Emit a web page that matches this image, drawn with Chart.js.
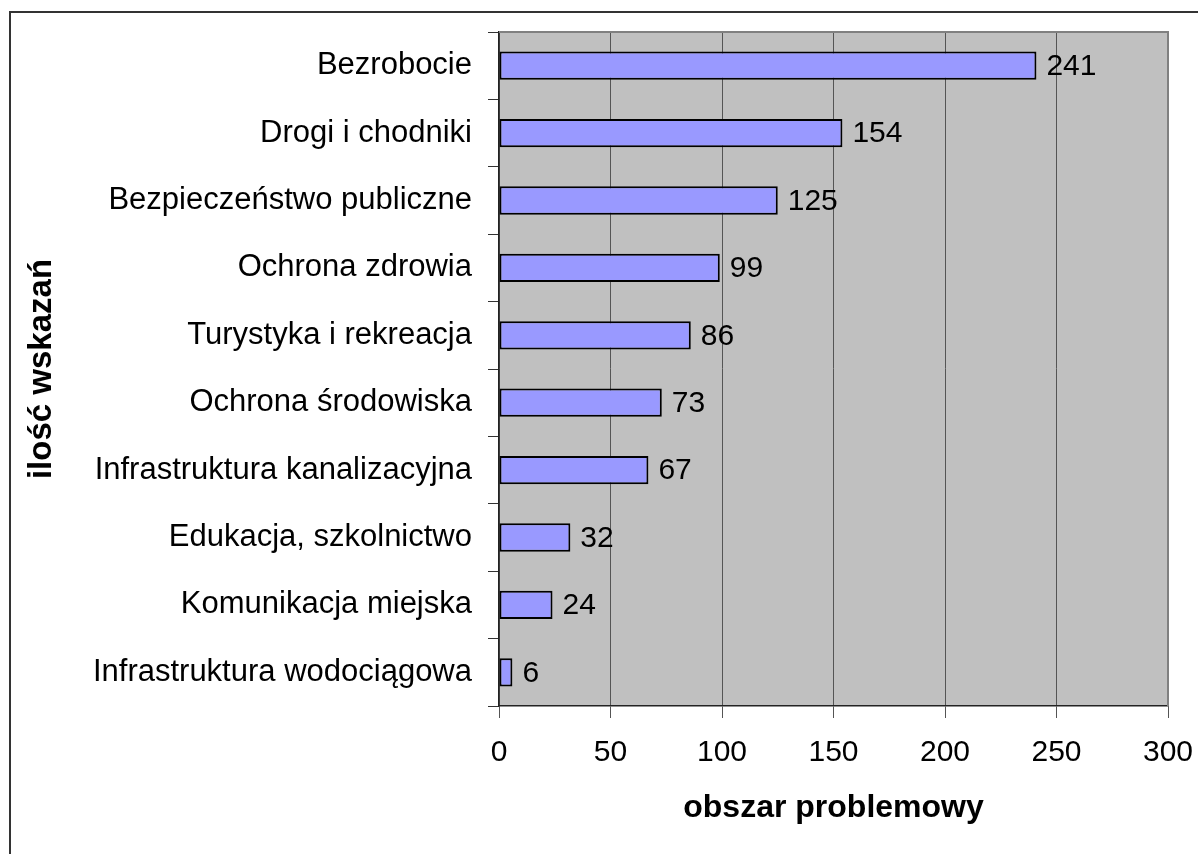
<!DOCTYPE html>
<html>
<head>
<meta charset="utf-8">
<script src="https://cdn.jsdelivr.net/npm/chart.js@4/dist/chart.umd.min.js"></script>
<style>
  html, body { margin: 0; padding: 0; background: #fff; }
  #wrap { position: relative; width: 1198px; height: 854px; overflow: hidden; }
  #frame { position: absolute; left: 9px; top: 11px; width: 1400px; height: 1000px; border: 2px solid #333; pointer-events: none; }
  canvas { position: absolute; left: 0; top: 0; }
</style>
</head>
<body>
<div id="wrap">
  <div id="frame"></div>
  <canvas id="c" width="1198" height="854"></canvas>
</div>
<script>
const categories = [
  'Bezrobocie',
  'Drogi i chodniki',
  'Bezpieczeństwo publiczne',
  'Ochrona zdrowia',
  'Turystyka i rekreacja',
  'Ochrona środowiska',
  'Infrastruktura kanalizacyjna',
  'Edukacja, szkolnictwo',
  'Komunikacja miejska',
  'Infrastruktura wodociągowa'
];
const values = [241, 154, 125, 99, 86, 73, 67, 32, 24, 6];
const xTicks = [0, 50, 100, 150, 200, 250, 300];
const xTitle = 'obszar problemowy';
const yTitle = 'ilość wskazań';

const FONT = "'Liberation Sans', Arial, sans-serif";

const plotBg = {
  id: 'plotBg',
  beforeDraw(chart) {
    const a = chart.chartArea, ctx = chart.ctx;
    ctx.save();
    ctx.fillStyle = '#C0C0C0';
    ctx.fillRect(a.left, a.top, a.right - a.left, a.bottom - a.top);
    ctx.restore();
  },
  beforeDatasetsDraw(chart) {
    const a = chart.chartArea, ctx = chart.ctx;
    ctx.save();
    ctx.strokeStyle = '#808080';
    ctx.lineWidth = 2;
    ctx.beginPath();
    ctx.moveTo(a.left, a.top);
    ctx.lineTo(a.right, a.top);
    ctx.lineTo(a.right, a.bottom);
    ctx.stroke();
    ctx.restore();
  }
};

const valueLabels = {
  id: 'valueLabels',
  afterDatasetsDraw(chart) {
    const ctx = chart.ctx;
    const meta = chart.getDatasetMeta(0);
    ctx.save();
    ctx.font = '30px ' + FONT;
    ctx.fillStyle = '#000';
    ctx.textAlign = 'left';
    ctx.textBaseline = 'middle';
    meta.data.forEach((el, i) => {
      ctx.fillText(String(values[i]), el.x + 10, el.y + 1);
    });
    ctx.restore();
  }
};

new Chart(document.getElementById('c'), {
  type: 'bar',
  data: {
    labels: categories,
    datasets: [{
      data: values,
      backgroundColor: '#9999FF',
      borderColor: '#000',
      borderWidth: 2,
      borderSkipped: false,
      categoryPercentage: 0.42,
      barPercentage: 1
    }]
  },
  options: {
    indexAxis: 'y',
    responsive: false,
    animation: false,
    events: [],
    layout: { padding: { top: 32, right: 30, left: 0, bottom: 0 } },
    plugins: {
      legend: { display: false },
      tooltip: { enabled: false },
      title: { display: false }
    },
    scales: {
      x: {
        type: 'linear',
        min: 0,
        max: 300,
        afterBuildTicks(scale) { scale.ticks = xTicks.map(v => ({ value: v })); },
        afterFit(scale) {
          scale.height = 148;
          scale.paddingLeft = 0;
          scale.paddingRight = 0;
        },
        grid: {
          display: true,
          drawOnChartArea: true,
          drawTicks: true,
          tickLength: 12,
          color: '#555',
          lineWidth: 1
        },
        border: { display: true, color: '#222', width: 1.5 },
        ticks: {
          font: { family: FONT, size: 30 },
          color: '#000',
          padding: 17,
          maxRotation: 0
        },
        title: {
          display: true,
          text: xTitle,
          font: { family: FONT, size: 32, weight: 'bold' },
          color: '#000',
          padding: { top: 0, bottom: 27 }
        }
      },
      y: {
        type: 'category',
        afterFit(scale) {
          scale.width = 499;
          scale.paddingTop = 0;
          scale.paddingBottom = 0;
        },
        grid: {
          display: true,
          drawOnChartArea: false,
          drawTicks: true,
          tickLength: 11,
          offset: true,
          color: '#333',
          lineWidth: 1
        },
        border: { display: true, color: '#222', width: 1.5 },
        ticks: {
          font: { family: FONT, size: 31 },
          color: '#000',
          padding: 16,
          autoSkip: false
        },
        title: {
          display: true,
          text: yTitle,
          font: { family: FONT, size: 33, weight: 'bold' },
          color: '#000',
          padding: { top: 22, bottom: 0 }
        }
      }
    }
  },
  plugins: [plotBg, valueLabels]
});
</script>
</body>
</html>
